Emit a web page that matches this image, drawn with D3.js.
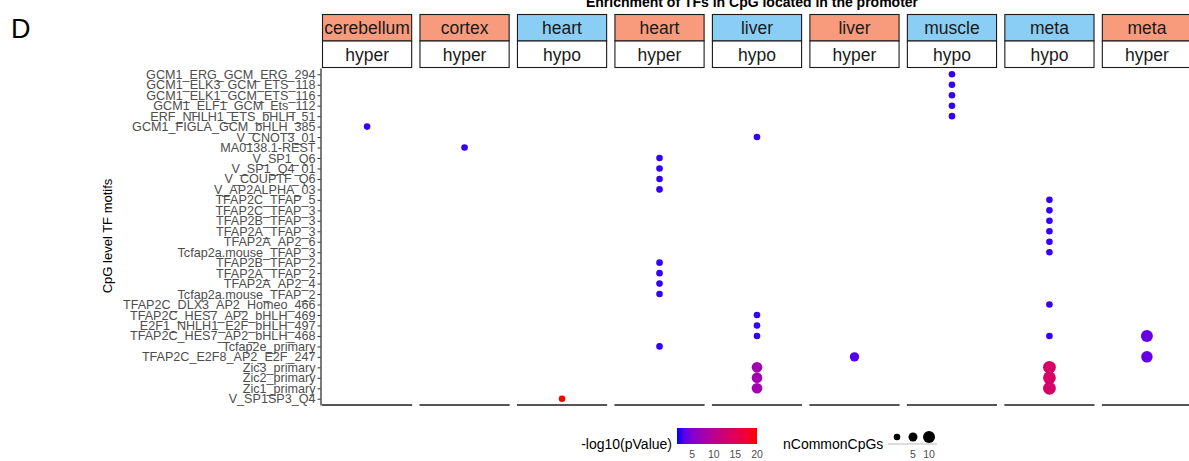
<!DOCTYPE html>
<html lang="en">
  <head>
    <meta charset="UTF-8" />
    <script src="https://d3js.org/d3.v7.min.js"></script>
    <style>
      body { margin: 0; background: #fff; }
      text { font-family: "Liberation Sans", Arial, sans-serif; }
    </style>
  </head>

  <body>
    <script>
      var width = 1189,
        height = 461;

      // panels (facets): tissue on top, direction underneath
      var panelTissue = ["cerebellum", "cortex", "heart", "heart", "liver", "liver", "muscle", "meta", "meta"];
      var panelDirection = ["hyper", "hyper", "hypo", "hyper", "hypo", "hyper", "hypo", "hypo", "hyper"];

      // y categories, top to bottom
      var motifs = [
        "GCM1_ERG_GCM_ERG_294", "GCM1_ELK3_GCM_ETS_118", "GCM1_ELK1_GCM_ETS_116",
        "GCM1_ELF1_GCM_Ets_112", "ERF_NHLH1_ETS_bHLH_51", "GCM1_FIGLA_GCM_bHLH_385",
        "V_CNOT3_01", "MA0138.1-REST", "V_SP1_Q6", "V_SP1_Q4_01", "V_COUPTF_Q6",
        "V_AP2ALPHA_03", "TFAP2C_TFAP_5", "TFAP2C_TFAP_3", "TFAP2B_TFAP_3",
        "TFAP2A_TFAP_3", "TFAP2A_AP2_6", "Tcfap2a.mouse_TFAP_3", "TFAP2B_TFAP_2",
        "TFAP2A_TFAP_2", "TFAP2A_AP2_4", "Tcfap2a.mouse_TFAP_2",
        "TFAP2C_DLX3_AP2_Homeo_466", "TFAP2C_HES7_AP2_bHLH_469",
        "E2F1_NHLH1_E2F_bHLH_497", "TFAP2C_HES7_AP2_bHLH_468", "Tcfap2e_primary",
        "TFAP2C_E2F8_AP2_E2F_247", "Zic3_primary", "Zic2_primary", "Zic1_primary",
        "V_SP1SP3_Q4"
      ];

      // each hit: panel index, motif, -log10(p), nCommonCpGs
      var hits = [
        [6, "GCM1_ERG_GCM_ERG_294", 2, 2],
        [6, "GCM1_ELK3_GCM_ETS_118", 2, 2],
        [6, "GCM1_ELK1_GCM_ETS_116", 2, 2],
        [6, "GCM1_ELF1_GCM_Ets_112", 2, 2],
        [6, "ERF_NHLH1_ETS_bHLH_51", 2, 2],
        [0, "GCM1_FIGLA_GCM_bHLH_385", 2, 2],
        [4, "V_CNOT3_01", 2, 2],
        [1, "MA0138.1-REST", 2, 2],
        [3, "V_SP1_Q6", 2, 2],
        [3, "V_SP1_Q4_01", 2, 2],
        [3, "V_COUPTF_Q6", 2, 2],
        [3, "V_AP2ALPHA_03", 2, 2],
        [7, "TFAP2C_TFAP_5", 2, 2],
        [7, "TFAP2C_TFAP_3", 2, 2],
        [7, "TFAP2B_TFAP_3", 2, 2],
        [7, "TFAP2A_TFAP_3", 2, 2],
        [7, "TFAP2A_AP2_6", 2, 2],
        [7, "Tcfap2a.mouse_TFAP_3", 2, 2],
        [3, "TFAP2B_TFAP_2", 2, 2],
        [3, "TFAP2A_TFAP_2", 2, 2],
        [3, "TFAP2A_AP2_4", 2, 2],
        [3, "Tcfap2a.mouse_TFAP_2", 2, 2],
        [7, "TFAP2C_DLX3_AP2_Homeo_466", 2, 2],
        [4, "TFAP2C_HES7_AP2_bHLH_469", 2, 2],
        [4, "E2F1_NHLH1_E2F_bHLH_497", 2, 2],
        [4, "TFAP2C_HES7_AP2_bHLH_468", 2, 2],
        [7, "TFAP2C_HES7_AP2_bHLH_468", 2, 2],
        [8, "TFAP2C_HES7_AP2_bHLH_468", 3.6, 10],
        [3, "Tcfap2e_primary", 2, 2],
        [5, "TFAP2C_E2F8_AP2_E2F_247", 2.8, 5.5],
        [8, "TFAP2C_E2F8_AP2_E2F_247", 3.5, 9],
        [4, "Zic3_primary", 7.5, 7.5],
        [4, "Zic2_primary", 7.5, 7.5],
        [4, "Zic1_primary", 7.5, 7.5],
        [7, "Zic3_primary", 13.5, 11.5],
        [7, "Zic2_primary", 13.5, 11.5],
        [7, "Zic1_primary", 13.5, 11.5],
        [2, "V_SP1SP3_Q4", 20, 2]
      ];

      var colorTicks = [5, 10, 15, 20];
      var sizeLegendValues = [2, 5, 10];
      var sizeLegendLabels = ["", "5", "10"];

      var svg = d3
        .select("body")
        .append("svg")
        .attr("width", width)
        .attr("height", height);

      var panelTop = 68,
        panelBottom = 405;

      var x = d3
        .scaleBand()
        .domain(d3.range(panelTissue.length))
        .range([322, 1192])
        .paddingInner(0.075);

      var y = d3
        .scalePoint()
        .domain(motifs)
        .range([panelTop, panelBottom])
        .padding(0.6);

      var color = d3
        .scaleLinear()
        .domain([1.5, 20])
        .range(["#0000ff", "#ff0000"])
        .interpolate(d3.interpolateLab);

      var size = d3.scaleRadial().domain([2, 10]).range([3.3, 6]);

      var stripColor = { hyper: "#f79b7c", hypo: "#8acdf5" };

      // title (mostly cut off at the top in the original)
      svg
        .append("text")
        .attr("x", 752)
        .attr("y", 7)
        .attr("text-anchor", "middle")
        .style("font-size", "14px")
        .style("font-weight", "bold")
        .text("Enrichment of TFs in CpG located in the promoter");

      svg
        .append("text")
        .attr("x", 11)
        .attr("y", 38)
        .style("font-size", "27px")
        .text("D");

      // facet strips + bottom lines
      var panels = svg
        .selectAll("g.panel")
        .data(d3.range(panelTissue.length))
        .enter()
        .append("g")
        .attr("class", "panel")
        .attr("transform", function (i) {
          return "translate(" + x(i) + ",0)";
        });

      panels
        .append("rect")
        .attr("x", 0.5)
        .attr("y", 14.5)
        .attr("width", x.bandwidth() - 1)
        .attr("height", 26.5)
        .attr("fill", function (i) {
          return stripColor[panelDirection[i]];
        })
        .attr("stroke", "#1a1a1a")
        .attr("stroke-width", 1.1);

      panels
        .append("rect")
        .attr("x", 0.5)
        .attr("y", 41)
        .attr("width", x.bandwidth() - 1)
        .attr("height", 26.5)
        .attr("fill", "#fff")
        .attr("stroke", "#1a1a1a")
        .attr("stroke-width", 1.1);

      panels
        .append("text")
        .attr("x", x.bandwidth() / 2)
        .attr("y", 34)
        .attr("text-anchor", "middle")
        .style("font-size", "17.5px")
        .attr("fill", "#1a1a1a")
        .text(function (i) {
          return panelTissue[i];
        });

      panels
        .append("text")
        .attr("x", x.bandwidth() / 2)
        .attr("y", 61)
        .attr("text-anchor", "middle")
        .style("font-size", "17.5px")
        .attr("fill", "#1a1a1a")
        .text(function (i) {
          return panelDirection[i];
        });

      panels
        .append("line")
        .attr("x1", 0)
        .attr("x2", x.bandwidth())
        .attr("y1", panelBottom)
        .attr("y2", panelBottom)
        .attr("stroke", "#555")
        .attr("stroke-width", 1.8);

      // y axis on the first panel
      var yAxis = svg
        .append("g")
        .attr("transform", "translate(" + (x(0) - 1.5) + ",0)")
        .call(d3.axisLeft(y).tickSize(3).tickSizeOuter(0).tickPadding(2));

      yAxis.select(".domain").attr("stroke", "#333").attr("stroke-width", 1.3);
      yAxis.selectAll(".tick line").attr("stroke", "#333");
      yAxis
        .selectAll(".tick text")
        .style("font-size", "12.6px")
        .style("font-family", "'Liberation Sans', Arial, sans-serif")
        .attr("fill", "#4d4d4d");

      svg
        .append("text")
        .attr("transform", "translate(112,236) rotate(-90)")
        .attr("text-anchor", "middle")
        .style("font-size", "13px")
        .text("CpG level TF motifs");

      // dots
      svg
        .append("g")
        .selectAll("circle")
        .data(hits)
        .enter()
        .append("circle")
        .attr("cx", function (d) {
          return x(d[0]) + x.bandwidth() / 2;
        })
        .attr("cy", function (d) {
          return y(d[1]);
        })
        .attr("r", function (d) {
          return size(d[3]);
        })
        .attr("fill", function (d) {
          return color(d[2]);
        });

      // colour legend
      var defs = svg.append("defs");
      var grad = defs
        .append("linearGradient")
        .attr("id", "pgrad")
        .attr("x1", "0%")
        .attr("x2", "100%");
      d3.range(0, 1.01, 0.1).forEach(function (t) {
        grad
          .append("stop")
          .attr("offset", t * 100 + "%")
          .attr("stop-color", color(1.5 + t * 18.5));
      });

      var cbar = d3.scaleLinear().domain([1.5, 20]).range([677, 757]);

      svg
        .append("rect")
        .attr("x", cbar.range()[0])
        .attr("y", 428)
        .attr("width", cbar.range()[1] - cbar.range()[0])
        .attr("height", 16)
        .attr("fill", "url(#pgrad)");

      svg
        .append("g")
        .selectAll("text")
        .data(colorTicks)
        .enter()
        .append("text")
        .attr("x", function (d) {
          return cbar(d);
        })
        .attr("y", 458)
        .attr("text-anchor", "middle")
        .style("font-size", "10.5px")
        .attr("fill", "#4d4d4d")
        .text(function (d) {
          return d;
        });

      svg
        .append("text")
        .attr("x", 672)
        .attr("y", 449)
        .attr("text-anchor", "end")
        .style("font-size", "14px")
        .text("-log10(pValue)");

      // size legend
      svg
        .append("text")
        .attr("x", 783)
        .attr("y", 449)
        .style("font-size", "14px")
        .text("nCommonCpGs");

      var sizeX = d3.scalePoint().domain(sizeLegendValues).range([897, 929]);

      svg
        .append("line")
        .attr("x1", 888)
        .attr("x2", 937)
        .attr("y1", 444)
        .attr("y2", 444)
        .attr("stroke", "#bbb")
        .attr("stroke-width", 1);

      svg
        .append("g")
        .selectAll("circle")
        .data(sizeLegendValues)
        .enter()
        .append("circle")
        .attr("cx", function (d) {
          return sizeX(d);
        })
        .attr("cy", 437)
        .attr("r", function (d) {
          return size(d);
        })
        .attr("fill", "#000");

      svg
        .append("g")
        .selectAll("text")
        .data(sizeLegendValues)
        .enter()
        .append("text")
        .attr("x", function (d) {
          return sizeX(d);
        })
        .attr("y", 458)
        .attr("text-anchor", "middle")
        .style("font-size", "10.5px")
        .attr("fill", "#4d4d4d")
        .text(function (d, i) {
          return sizeLegendLabels[i];
        });
    </script>
  </body>
</html>
